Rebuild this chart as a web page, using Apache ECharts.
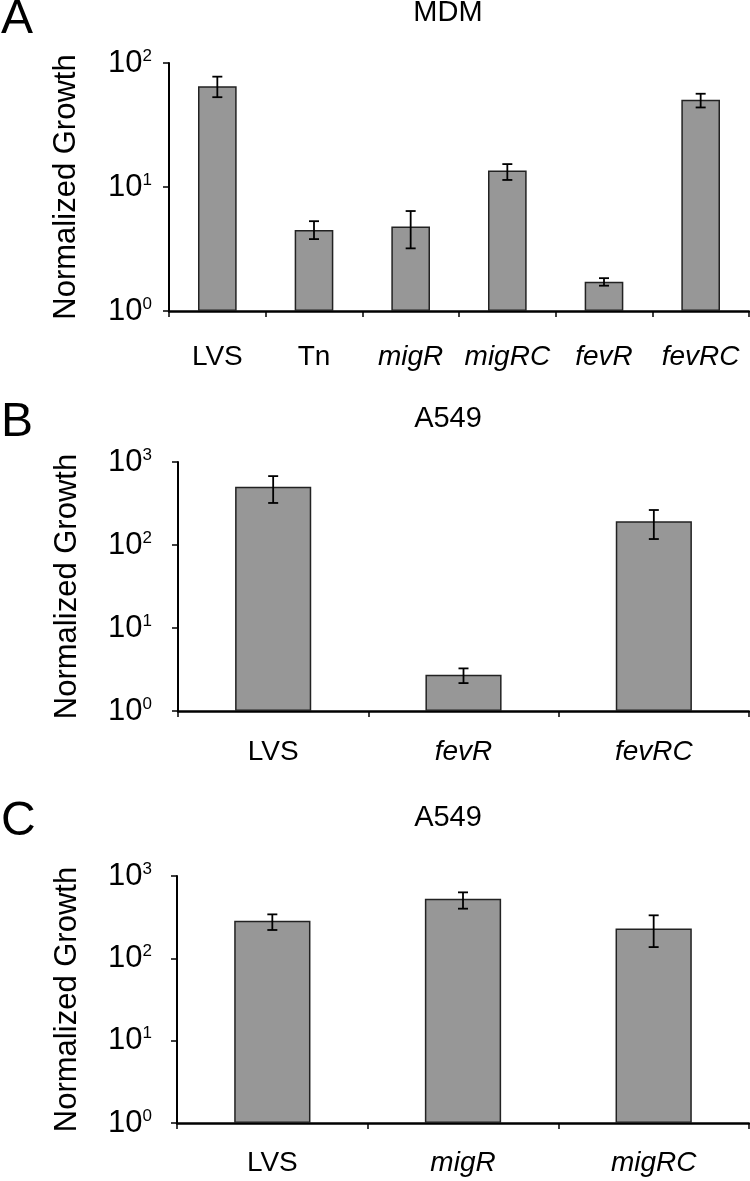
<!DOCTYPE html>
<html>
<head>
<meta charset="utf-8">
<script src="https://cdn.jsdelivr.net/npm/echarts@6/dist/echarts.min.js"></script>
<style>
  html, body { margin: 0; padding: 0; background: #ffffff; }
  #chart { width: 750px; height: 1181px; }
</style>
</head>
<body>
<div id="chart"></div>
<script>
// ---- Data ----
const catsA = ['LVS', 'Tn', 'migR', 'migRC', 'fevR', 'fevRC'];
const valsA = [65, 4.5, 4.8, 13.6, 1.72, 50.5];
const lowA  = [53, 3.8, 3.2, 11.4, 1.6, 43.8];
const highA = [77.6, 5.3, 6.4, 15.3, 1.84, 56.5];

const catsB = ['LVS', 'fevR', 'fevRC'];
const valsB = [502, 2.73, 193];
const lowB  = [321, 2.17, 118];
const highB = [676, 3.26, 264];

const catsC = ['LVS', 'migR', 'migRC'];
const valsC = [287, 530, 231];
const lowC  = [221, 401, 137];
const highC = [342, 633, 333];

const panelLetters = ['A', 'B', 'C'];
const panelTitles = ['MDM', 'A549', 'A549'];
const yAxisName = 'Normalized Growth';
const italicCats = ['migR', 'migRC', 'fevR', 'fevRC'];
const yMaxes = [100, 1000, 1000];

// ---- Styles ----
const FONT = '"Liberation Sans", Arial, sans-serif';
const NARROW = '"Liberation Sans Narrow", "Arial Narrow", "Liberation Sans", Arial, sans-serif';
const BAR_COLOR = '#979797';

const layout = [
  { left: 169, top: 63, height: 248, yNameGap: 87, yMargin: 17, xMargin: 32, letterTop: -4, titleTop: -2 },
  { left: 178, top: 462, height: 249, yNameGap: 95, yMargin: 26, xMargin: 27, letterTop: 399, titleTop: 404 },
  { left: 177, top: 876, height: 247, yNameGap: 94, yMargin: 25, xMargin: 26, letterTop: 798, titleTop: 803 }
];

const panels = [
  { cats: catsA, vals: valsA, low: lowA, high: highA },
  { cats: catsB, vals: valsB, low: lowB, high: highB },
  { cats: catsC, vals: valsC, low: lowC, high: highC }
];

const grids = [], xAxes = [], yAxes = [], series = [], titles = [];

panels.forEach((p, i) => {
  const L = layout[i];
  grids.push({ left: L.left, top: L.top, height: L.height, right: 1, containLabel: false });
  xAxes.push({
    type: 'category',
    gridIndex: i,
    data: p.cats,
    boundaryGap: true,
    axisLine: { show: true, lineStyle: { color: '#000', width: 2.5 } },
    axisTick: { show: true, inside: false, length: 6, lineStyle: { color: '#000', width: 1.5 } },
    axisLabel: {
      margin: L.xMargin,
      formatter: v => italicCats.includes(v) ? '{i|' + v + '}' : '{n|' + v + '}',
      rich: {
        n: { fontFamily: FONT, fontSize: 28, color: '#000' },
        i: { fontFamily: FONT, fontSize: 28, fontStyle: 'italic', color: '#000' }
      }
    },
    splitLine: { show: false }
  });
  yAxes.push({
    type: 'log',
    logBase: 10,
    gridIndex: i,
    min: 1,
    max: yMaxes[i],
    name: yAxisName,
    nameLocation: 'middle',
    nameRotate: 90,
    nameGap: L.yNameGap,
    nameTextStyle: { fontFamily: FONT, fontSize: 31, color: '#000' },
    axisLine: { show: true, lineStyle: { color: '#000', width: 2 } },
    axisTick: { show: true, inside: false, length: 6, lineStyle: { color: '#000', width: 1.5 } },
    minorTick: { show: false },
    splitLine: { show: false },
    axisLabel: {
      margin: L.yMargin,
      formatter: v => '{b|10}{s|' + Math.round(Math.log10(v)) + '}',
      rich: {
        b: { fontFamily: NARROW, fontSize: 31, color: '#000', lineHeight: 31 },
        s: { fontFamily: NARROW, fontSize: 17, color: '#000', verticalAlign: 'top', lineHeight: 17 }
      }
    }
  });
  series.push({
    type: 'bar',
    xAxisIndex: i,
    yAxisIndex: i,
    data: p.vals,
    barWidth: '40%',
    itemStyle: { color: BAR_COLOR, borderColor: '#222', borderWidth: 1.5 },
    silent: true,
    animation: false
  });
  series.push({
    type: 'custom',
    xAxisIndex: i,
    yAxisIndex: i,
    data: p.cats.map((c, k) => [k, p.low[k], p.high[k]]),
    encode: { x: 0, y: [1, 2] },
    renderItem: (params, api) => {
      const x = api.value(0);
      const lo = api.coord([x, api.value(1)]);
      const hi = api.coord([x, api.value(2)]);
      const hw = 5;
      const st = { stroke: '#000', lineWidth: 1.8 };
      return {
        type: 'group',
        children: [
          { type: 'line', shape: { x1: lo[0], y1: lo[1], x2: hi[0], y2: hi[1] }, style: st },
          { type: 'line', shape: { x1: lo[0] - hw, y1: lo[1], x2: lo[0] + hw, y2: lo[1] }, style: st },
          { type: 'line', shape: { x1: hi[0] - hw, y1: hi[1], x2: hi[0] + hw, y2: hi[1] }, style: st }
        ]
      };
    },
    z: 10,
    silent: true,
    animation: false
  });
  titles.push({
    text: panelLetters[i], left: 1, top: L.letterTop, padding: 0,
    textStyle: { fontFamily: FONT, fontSize: 48, fontWeight: 'normal', color: '#000' }
  });
  titles.push({
    text: panelTitles[i], left: 448, top: L.titleTop, padding: 0, textAlign: 'center',
    textStyle: { fontFamily: FONT, fontSize: 29, fontWeight: 'normal', color: '#000' }
  });
});

const chart = echarts.init(document.getElementById('chart'), null, { renderer: 'canvas' });
chart.setOption({
  animation: false,
  backgroundColor: '#ffffff',
  title: titles,
  grid: grids,
  xAxis: xAxes,
  yAxis: yAxes,
  series: series
});
</script>
</body>
</html>
